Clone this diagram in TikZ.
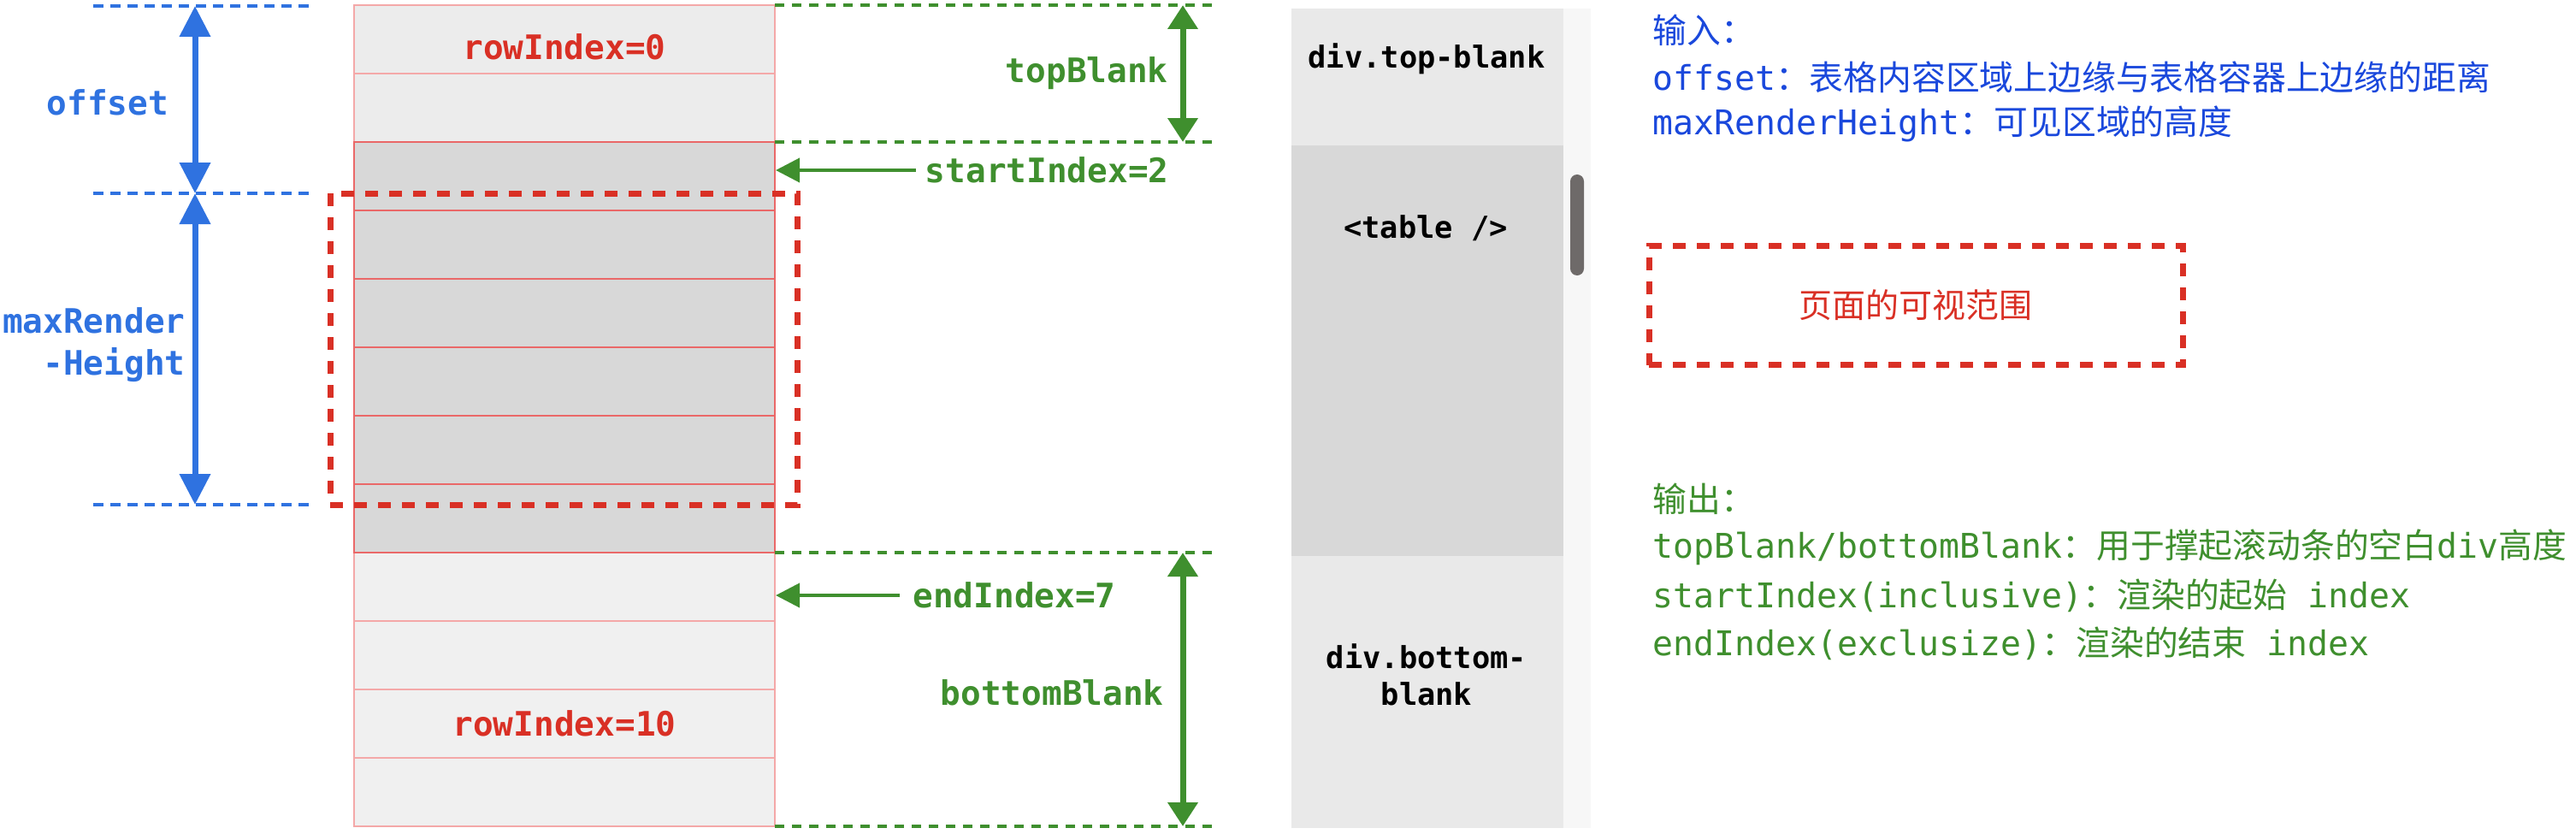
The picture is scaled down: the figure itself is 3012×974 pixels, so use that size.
\documentclass[tikz,border=0pt]{standalone}
\usepackage{fontspec}
\usetikzlibrary{arrows.meta}
\newfontfamily\monof{DejaVu Sans Mono}
\newfontfamily\cjkf{Noto Sans CJK SC}
\definecolor{lblue}{RGB}{47,114,224}
\definecolor{tblue}{RGB}{26,72,220}
\definecolor{vred}{RGB}{217,48,37}
\definecolor{vgreen}{RGB}{63,143,46}
\definecolor{rowlightA}{RGB}{236,236,236}
\definecolor{rowlightB}{RGB}{240,240,240}
\definecolor{rowdark}{RGB}{216,216,216}
\definecolor{edgedark}{RGB}{234,104,104}
\definecolor{edgelight}{RGB}{244,168,168}
\definecolor{colgray}{RGB}{233,233,233}
\definecolor{trackgray}{RGB}{247,247,247}
\definecolor{thumbgray}{RGB}{110,106,105}
\begin{document}
\begin{tikzpicture}[x=0.5pt,y=-0.5pt,
  rowbox/.style={line width=1pt, minimum width=246pt, minimum height=40pt, inner sep=0pt},
  rowtop/.style={rowbox, draw=edgelight, fill=rowlightA},
  rowbot/.style={rowbox, draw=edgelight, fill=rowlightB},
  rowmid/.style={rowbox, draw=edgedark, fill=rowdark},
  lbl/.style={font=\fontsize{19.7pt}{24.5pt}\selectfont\monof\bfseries, inner sep=0pt},
  divlbl/.style={font=\fontsize{17.7pt}{21.5pt}\selectfont\monof\bfseries, inner sep=0pt, text=black, align=center},
  txt/.style={font=\fontsize{19.9pt}{24pt}\selectfont, inner sep=0pt, anchor=west},
  bluedash/.style={draw=lblue, line width=1.75pt, dash pattern=on 6pt off 4pt},
  greendash/.style={draw=vgreen, line width=1.75pt, dash pattern=on 5.5pt off 4.5pt},
  bluearrow/.style={draw=lblue, line width=3.5pt, {Triangle[width=17.5pt 0 1,length=18pt 0 1]}-{Triangle[width=17.5pt 0 1,length=18pt 0 1]}},
  greenarrow/.style={draw=vgreen, line width=3.5pt, {Triangle[width=17pt 0 1,length=14pt 0 1]}-{Triangle[width=17pt 0 1,length=14pt 0 1]}},
  gsmall/.style={draw=vgreen, line width=2pt, -{Triangle[width=14pt 0 1,length=14pt 0 1]}},
  visdash/.style={draw=vred, line width=3.5pt, dash pattern=on 7.5pt off 6.5pt},
  colbox/.style={inner sep=0pt, minimum width=159pt},
]
\useasboundingbox (0,0) rectangle (3012,974);

% ---- table rows
\foreach \k in {0,1} \node[rowtop] (r\k) at (660,{46+80*\k}) {};
\foreach \k in {8,9,10,11} \node[rowbot] (r\k) at (660,{46+80*\k}) {};
\foreach \k in {2,...,7} \node[rowmid] (r\k) at (660,{46+80*\k}) {};
\node[lbl, text=vred] (l0) at (660,55) {rowIndex=0};
\node[lbl, text=vred] (l10) at (r10) {rowIndex=10};

% ---- blue dimension lines
\coordinate (bd0a) at (109,7);   \coordinate (bd0b) at (362,7);
\coordinate (bd1a) at (109,226); \coordinate (bd1b) at (362,226);
\coordinate (bd2a) at (109,590); \coordinate (bd2b) at (362,590);
\draw[bluedash] (bd0a) -- (bd0b);
\draw[bluedash] (bd1a) -- (bd1b);
\draw[bluedash] (bd2a) -- (bd2b);
\coordinate (ba0) at (228,7);
\coordinate (ba1) at (228,226);
\coordinate (ba2) at (228,590);
\draw[bluearrow] (ba0) -- (ba1);
\draw[bluearrow] (ba1) -- (ba2);
\node[lbl, text=lblue] (offlbl) at (126,120) {offset};
\node[lbl, text=lblue, align=right, anchor=east] (mrh) at (217,403) {maxRender\\-Height};

% ---- visible area
\draw[visdash] (386,226) rectangle (932,590);

% ---- green dimension lines
\coordinate (gd0a) at (906,6);   \coordinate (gd0b) at (1425,6);
\coordinate (gd1a) at (906,166); \coordinate (gd1b) at (1425,166);
\coordinate (gd2a) at (906,646); \coordinate (gd2b) at (1425,646);
\coordinate (gd3a) at (906,966); \coordinate (gd3b) at (1425,966);
\draw[greendash] (gd0a) -- (gd0b);
\draw[greendash] (gd1a) -- (gd1b);
\draw[greendash] (gd2a) -- (gd2b);
\draw[greendash] (gd3a) -- (gd3b);
\coordinate (ga0) at (1383,6);
\coordinate (ga1) at (1383,166);
\coordinate (ga2) at (1383,646);
\coordinate (ga3) at (1383,966);
\draw[greenarrow] (ga0) -- (ga1);
\draw[greenarrow] (ga2) -- (ga3);
\node[lbl, text=vgreen, anchor=east] (tb) at (1366,86) {topBlank};
\node[lbl, text=vgreen, anchor=east] (bb) at (1361,810) {bottomBlank};
\node[lbl, text=vgreen, anchor=east] (sidx) at (1367,199) {startIndex=2};
\node[lbl, text=vgreen, anchor=west] (eidx) at (1067,696) {endIndex=7};
\draw[gsmall, shorten <=5.5pt] (sidx.west) -- (sidx.west -| r2.east);
\draw[gsmall, shorten <=7.5pt] (eidx.west) -- (eidx.west -| r8.east);

% ---- DOM column
\node[colbox, fill=trackgray, minimum width=16pt, minimum height=479pt] (track) at (1844,489) {};
\node[colbox, fill=colgray, minimum height=80pt] (ctop) at (1669,90) {};
\node[colbox, fill=rowdark, minimum height=240pt] (ctab) at (1669,410) {};
\node[colbox, fill=colgray, minimum height=159pt] (cbot) at (1669,809) {};
\node[inner sep=0pt, fill=thumbgray, rounded corners=4pt, minimum width=8pt, minimum height=59pt] (thumb) at (1844,263) {};
\node[divlbl] (dtop) at (1668,69) {div.top-blank};
\node[divlbl] (dtab) at (1667,267) {<table />};
\node[divlbl] (dbot) at (1668,789) {div.bottom-\\blank};

% ---- legend text
\node[txt, text=tblue] (in0) at (1932,35) {{\cjkf 输入：}};
\node[txt, text=tblue] (in1) at (1932,90) {{\monof offset}{\cjkf ：表格内容区域上边缘与表格容器上边缘的距离}};
\node[txt, text=tblue] (in2) at (1932,145) {{\monof maxRenderHeight}{\cjkf ：可见区域的高度}};
\node[visdash, inner sep=0pt, minimum width=312pt, minimum height=69.5pt, font=\fontsize{19.5pt}{24pt}\selectfont\cjkf, text=vred] (vislegend) at (2240,357) {页面的可视范围};
\node[txt, text=vgreen] (out0) at (1932,583) {{\cjkf 输出：}};
\node[txt, text=vgreen] (out1) at (1932,640) {{\monof topBlank/bottomBlank}{\cjkf ：用于撑起滚动条的空白}{\monof div}{\cjkf 高度}};
\node[txt, text=vgreen] (out2) at (1932,696) {{\monof startIndex(inclusive)}{\cjkf ：渲染的起始}{\monof\ index}};
\node[txt, text=vgreen] (out3) at (1932,752) {{\monof endIndex(exclusize)}{\cjkf ：渲染的结束}{\monof\ index}};
\end{tikzpicture}
\end{document}
